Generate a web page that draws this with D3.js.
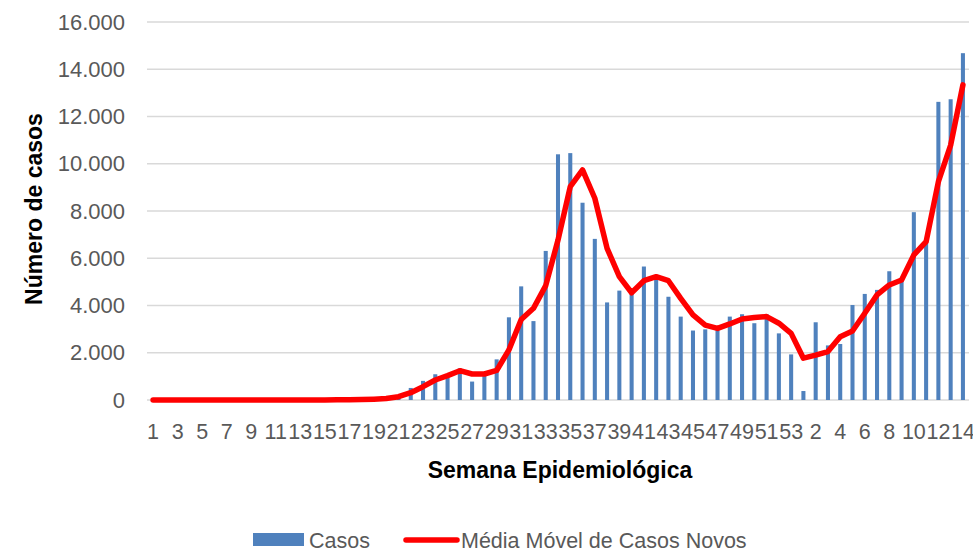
<!DOCTYPE html>
<html lang="pt">
<head>
  <meta charset="UTF-8">
  <title>Casos por semana epidemiológica</title>
  <script src="https://d3js.org/d3.v7.min.js"></script>
  <style>
    body {
      margin: 0;
      background: #ffffff;
      overflow: hidden;
    }
    svg {
      font-family: "Liberation Sans", Arial, sans-serif;
    }
    .tick-label {
      fill: #595959;
      font-size: 22px;
    }
    .x-tick {
      font-size: 21.5px;
    }
    .axis-title {
      fill: #000000;
      font-size: 23px;
      font-weight: bold;
    }
    .legend-label {
      fill: #595959;
      font-size: 21.5px;
    }
  </style>
</head>
<body>
  <svg width="973" height="552"></svg>

  <script>
    // semanas epidemiológicas (2020: 1-53, 2021: 1-14)
    const weeks = [
      1, 2, 3, 4, 5, 6, 7, 8, 9, 10, 11, 12, 13, 14, 15, 16, 17, 18, 19, 20,
      21, 22, 23, 24, 25, 26, 27, 28, 29, 30, 31, 32, 33, 34, 35, 36, 37, 38, 39, 40,
      41, 42, 43, 44, 45, 46, 47, 48, 49, 50, 51, 52, 53,
      1, 2, 3, 4, 5, 6, 7, 8, 9, 10, 11, 12, 13, 14
    ];

    const casos = [
      0, 0, 0, 0, 0, 0, 0, 0, 0, 0, 0, 1, 2, 3, 5, 8, 15, 25, 40, 80, 150,
      510, 810, 1090, 950, 1340, 780, 1050, 1720, 3500, 4810, 3340, 6310, 10400, 10450, 8350, 6820, 4130, 4630, 4600, 5650,
      5100, 4370, 3530, 2940, 2990, 2960, 3530, 3630, 3250, 3630, 2820, 1930, 380,
      3290, 2310, 2370, 4020, 4490, 4660, 5450, 5150, 7950, 6770, 12620, 12730, 14680
    ];

    const mediaMovel = [
      0, 0, 0, 0, 0, 0, 0, 0, 0, 0, 0, 0, 0, 3, 5, 8, 12, 20, 35, 60,
      140, 310, 564, 847, 1030, 1240, 1100, 1100, 1250, 2120, 3410, 3880, 4840, 6770, 9030, 9740, 8540, 6420, 5220, 4540,
      5050, 5220, 5050, 4300, 3600, 3170, 3030, 3220, 3430, 3490, 3530, 3250, 2820,
      1770, 1900, 2050, 2680, 2920, 3670, 4450, 4870, 5080, 6140, 6700, 9240, 10790, 13340
    ];

    const yTicks = [0, 2000, 4000, 6000, 8000, 10000, 12000, 14000, 16000];

    const svg = d3.select("svg");
    const idx = d3.range(weeks.length);

    const x = d3.scaleBand()
      .domain(idx)
      .range([147, 969])
      .paddingInner(0.67)
      .paddingOuter(0.33);

    const y = d3.scaleLinear()
      .domain([0, 16000])
      .range([400, 22]);

    const fmt = d3.formatLocale({ decimal: ",", thousands: ".", grouping: [3], currency: ["R$", ""] }).format(",");

    // gridlines
    svg.append("g")
      .selectAll("line")
      .data(yTicks)
      .join("line")
      .attr("x1", 147)
      .attr("x2", 969)
      .attr("y1", d => y(d))
      .attr("y2", d => y(d))
      .attr("stroke", "#d9d9d9")
      .attr("stroke-width", 1.5);

    // y tick labels
    svg.append("g")
      .selectAll("text")
      .data(yTicks)
      .join("text")
      .attr("class", "tick-label")
      .attr("x", 125)
      .attr("y", d => y(d))
      .attr("dy", "0.35em")
      .attr("text-anchor", "end")
      .text(d => fmt(d));

    // bars
    svg.append("g")
      .selectAll("rect")
      .data(idx)
      .join("rect")
      .attr("x", i => x(i))
      .attr("width", x.bandwidth())
      .attr("y", i => y(casos[i]))
      .attr("height", i => y(0) - y(casos[i]))
      .attr("fill", "#4f81bd");

    // moving average line
    const line = d3.line()
      .x(i => x(i) + x.bandwidth() / 2)
      .y(i => y(mediaMovel[i]));

    svg.append("path")
      .datum(idx)
      .attr("d", line)
      .attr("fill", "none")
      .attr("stroke", "#ff0000")
      .attr("stroke-width", 5.5)
      .attr("stroke-linejoin", "round")
      .attr("stroke-linecap", "round");

    // x tick labels (every other week)
    svg.append("g")
      .selectAll("text")
      .data(idx.filter(i => i % 2 === 0))
      .join("text")
      .attr("class", "tick-label x-tick")
      .attr("x", i => x(i) + x.bandwidth() / 2)
      .attr("y", 439)
      .attr("text-anchor", "middle")
      .text(i => weeks[i]);

    // axis titles
    svg.append("text")
      .attr("class", "axis-title")
      .attr("transform", "translate(42,209) rotate(-90)")
      .attr("text-anchor", "middle")
      .text("Número de casos");

    svg.append("text")
      .attr("class", "axis-title")
      .attr("x", 560)
      .attr("y", 478)
      .attr("text-anchor", "middle")
      .text("Semana Epidemiológica");

    // legend
    const legend = svg.append("g");
    legend.append("rect")
      .attr("x", 253)
      .attr("y", 533)
      .attr("width", 51)
      .attr("height", 13)
      .attr("fill", "#4f81bd");
    legend.append("text")
      .attr("class", "legend-label")
      .attr("x", 309)
      .attr("y", 548)
      .text("Casos");
    legend.append("line")
      .attr("x1", 406)
      .attr("x2", 457)
      .attr("y1", 540)
      .attr("y2", 540)
      .attr("stroke", "#ff0000")
      .attr("stroke-width", 5.5)
      .attr("stroke-linecap", "round");
    legend.append("text")
      .attr("class", "legend-label")
      .attr("x", 461)
      .attr("y", 548)
      .text("Média Móvel de Casos Novos");
  </script>
</body>
</html>
